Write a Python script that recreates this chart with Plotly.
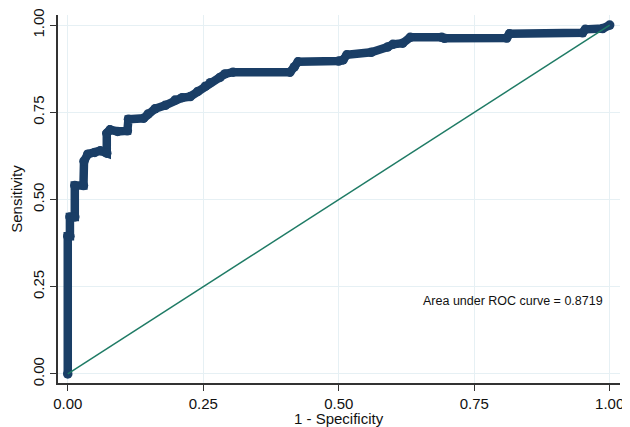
import plotly.graph_objects as go

# ROC curve points (1 - specificity, sensitivity)
fpr = [0.000, 0.000, 0.004, 0.004, 0.013, 0.013, 0.029, 0.030, 0.037, 0.050,
       0.060, 0.072, 0.072, 0.078, 0.092, 0.110, 0.112, 0.140, 0.148, 0.161,
       0.180, 0.198, 0.211, 0.226, 0.240, 0.254, 0.263, 0.281, 0.290, 0.305,
       0.410, 0.418, 0.425, 0.500, 0.508, 0.515, 0.560, 0.590, 0.600, 0.618,
       0.632, 0.690, 0.695, 0.810, 0.815, 0.950, 0.955, 0.987, 1.000]
tpr = [0.000, 0.395, 0.395, 0.450, 0.450, 0.540, 0.540, 0.610, 0.630, 0.635,
       0.640, 0.633, 0.690, 0.700, 0.695, 0.697, 0.730, 0.733, 0.745, 0.760,
       0.770, 0.785, 0.792, 0.795, 0.810, 0.825, 0.835, 0.850, 0.860, 0.865,
       0.865, 0.880, 0.895, 0.897, 0.900, 0.915, 0.922, 0.937, 0.945, 0.948,
       0.965, 0.965, 0.962, 0.963, 0.975, 0.978, 0.988, 0.990, 1.000]

ref_x = [0, 1]
ref_y = [0, 1]

tick_vals = [0, 0.25, 0.5, 0.75, 1]
tick_text = ["0.00", "0.25", "0.50", "0.75", "1.00"]

auc_label = "Area under ROC curve = 0.8719"
x_title = "1 - Specificity"
y_title = "Sensitivity"

curve_color = "#1a3e66"
ref_color = "#1f7b65"
grid_color = "#e6f0f4"
font_family = "Liberation Sans, Arial, sans-serif"

fig = go.Figure()
fig.add_trace(go.Scatter(
    x=fpr, y=tpr, mode="lines+markers",
    line=dict(color=curve_color, width=8.5),
    marker=dict(color=curve_color, size=9.5),
    showlegend=False, hoverinfo="skip"))
fig.add_trace(go.Scatter(
    x=ref_x, y=ref_y, mode="lines",
    line=dict(color=ref_color, width=1.5),
    showlegend=False, hoverinfo="skip"))

fig.add_annotation(
    x=0.991, y=0.21, xref="x", yref="y", text=auc_label,
    showarrow=False, xanchor="right", yanchor="middle",
    font=dict(family=font_family, size=12.5, color="#111111"))

# x-axis title placed just under the tick labels, as in the reference
fig.add_annotation(
    x=0.5, y=0, xref="paper", yref="paper", text=x_title,
    showarrow=False, xanchor="center", yanchor="top", yshift=-25,
    font=dict(family=font_family, size=15, color="#111111"))

fig.update_layout(
    width=622, height=419,
    margin=dict(l=50, r=10, t=7, b=44),
    paper_bgcolor="white", plot_bgcolor="white",
    font=dict(family=font_family, color="#111111"),
    xaxis=dict(
        range=[-0.018, 1.019], tickvals=tick_vals, ticktext=tick_text,
        showgrid=True, gridcolor=grid_color, gridwidth=1, zeroline=False,
        showline=True, linecolor="#333333", linewidth=1.5,
        ticks="outside", ticklen=6, tickwidth=1.2, tickcolor="#333333",
        tickfont=dict(size=15, family=font_family, color="#111111"),
        automargin=False),
    yaxis=dict(
        range=[-0.026, 1.029], tickvals=tick_vals, ticktext=tick_text,
        tickangle=-90,
        showgrid=True, gridcolor=grid_color, gridwidth=1, zeroline=False,
        showline=True, linecolor="#333333", linewidth=1.5,
        ticks="outside", ticklen=6, tickwidth=1.2, tickcolor="#333333",
        tickfont=dict(size=15, family=font_family, color="#111111"),
        title=dict(text=y_title,
                   font=dict(size=15, family=font_family, color="#111111")),
        automargin=False),
)

fig.write_html("out.html")
